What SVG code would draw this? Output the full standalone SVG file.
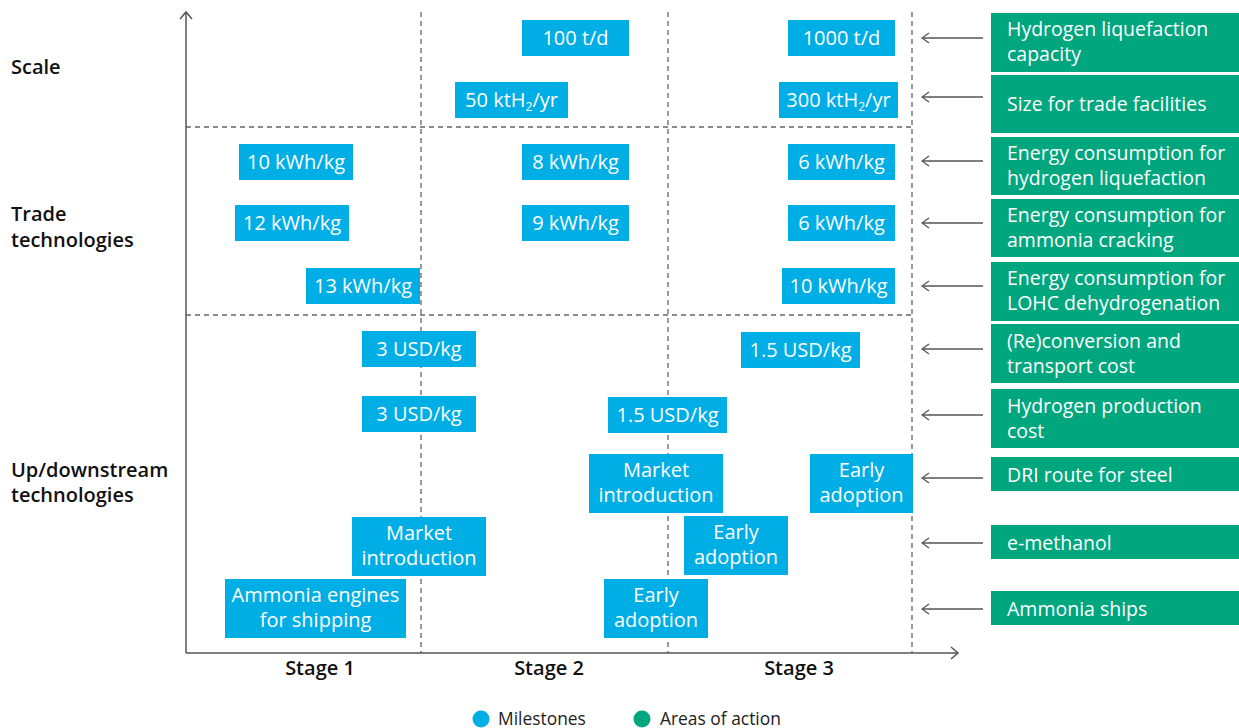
<svg xmlns="http://www.w3.org/2000/svg" width="1239" height="728" viewBox="0 0 1239 728">
<defs>
<style>
.ms{fill:#00AEE6}
.aa{fill:#00A67E}
.bt{font-family:"Open Sans","DejaVu Sans",sans-serif;font-size:20px;fill:#fff;text-anchor:middle}
.gt{font-family:"Open Sans","DejaVu Sans",sans-serif;font-size:19.5px;fill:#fff}
.lab{font-family:"Open Sans","DejaVu Sans",sans-serif;font-size:20px;font-weight:600;fill:#111}
.stg{font-family:"Open Sans","DejaVu Sans",sans-serif;font-size:20px;font-weight:600;fill:#111;text-anchor:middle}
.leg{font-family:"Open Sans","DejaVu Sans",sans-serif;font-size:17.4px;fill:#222}
.dash{stroke:#666;stroke-width:1.3;stroke-dasharray:5,4;fill:none}
.axis{stroke:#555;stroke-width:1.5;fill:none}
.conn{stroke:#555;stroke-width:1.3;fill:none;marker-end:url(#chev)}
.sub{font-size:12px}
</style>
<marker id="chev" viewBox="0 0 10 12" refX="9" refY="6" markerWidth="10" markerHeight="12" markerUnits="userSpaceOnUse" orient="auto">
<path d="M2,1 L9,6 L2,11" fill="none" stroke="#555" stroke-width="1.3"/>
</marker>
</defs>
<rect width="1239" height="728" fill="#fff"/>

<g id="grid">
<line class="dash" x1="421" y1="12" x2="421" y2="653"/>
<line class="dash" x1="668" y1="12" x2="668" y2="653"/>
<line class="dash" x1="912" y1="12" x2="912" y2="653"/>
<line class="dash" x1="186" y1="127" x2="912" y2="127"/>
<line class="dash" x1="186" y1="315" x2="912" y2="315"/>
</g>

<g id="axes">
<line class="axis" x1="186" y1="12" x2="186" y2="653"/>
<path class="axis" d="M180,19 L186,12 L192,19"/>
<line class="axis" x1="186" y1="653" x2="958" y2="653"/>
<path class="axis" d="M951,647 L958,653 L951,659"/>
</g>

<g id="row-labels">
<text class="lab" x="11" y="74">Scale</text>
<text class="lab" x="11" y="221">Trade</text>
<text class="lab" x="11" y="247">technologies</text>
<text class="lab" x="11" y="477">Up/downstream</text>
<text class="lab" x="11" y="502">technologies</text>
</g>

<g id="stage-labels">
<text class="stg" x="320" y="675">Stage 1</text>
<text class="stg" x="549" y="675">Stage 2</text>
<text class="stg" x="799" y="675">Stage 3</text>
</g>

<g id="m1"><rect class="ms" x="522" y="20" width="107" height="36"/><text class="bt" x="575.5" y="45">100 t/d</text></g>
<g id="m2"><rect class="ms" x="788" y="20" width="107" height="36"/><text class="bt" x="841.5" y="45">1000 t/d</text></g>
<g id="m3"><rect class="ms" x="455" y="82" width="113" height="36"/><text class="bt" x="511.5" y="107">50 ktH<tspan class="sub" dy="4">2</tspan><tspan dy="-4">/yr</tspan></text></g>
<g id="m4"><rect class="ms" x="779" y="82" width="119" height="36"/><text class="bt" x="838.5" y="107">300 ktH<tspan class="sub" dy="4">2</tspan><tspan dy="-4">/yr</tspan></text></g>
<g id="m5"><rect class="ms" x="239" y="144" width="114" height="36"/><text class="bt" x="296" y="169">10 kWh/kg</text></g>
<g id="m6"><rect class="ms" x="522" y="144" width="107" height="36"/><text class="bt" x="575.5" y="169">8 kWh/kg</text></g>
<g id="m7"><rect class="ms" x="788" y="144" width="107" height="36"/><text class="bt" x="841.5" y="169">6 kWh/kg</text></g>
<g id="m8"><rect class="ms" x="235" y="205" width="114" height="36"/><text class="bt" x="292" y="230">12 kWh/kg</text></g>
<g id="m9"><rect class="ms" x="522" y="205" width="107" height="36"/><text class="bt" x="575.5" y="230">9 kWh/kg</text></g>
<g id="m10"><rect class="ms" x="788" y="205" width="107" height="36"/><text class="bt" x="841.5" y="230">6 kWh/kg</text></g>
<g id="m11"><rect class="ms" x="306" y="268" width="114" height="36"/><text class="bt" x="363" y="293">13 kWh/kg</text></g>
<g id="m12"><rect class="ms" x="782" y="268" width="113" height="36"/><text class="bt" x="838.5" y="293">10 kWh/kg</text></g>
<g id="m13"><rect class="ms" x="362" y="331" width="114" height="36"/><text class="bt" x="419" y="356">3 USD/kg</text></g>
<g id="m14"><rect class="ms" x="741" y="332" width="119" height="36"/><text class="bt" x="800.5" y="357">1.5 USD/kg</text></g>
<g id="m15"><rect class="ms" x="362" y="396" width="114" height="36"/><text class="bt" x="419" y="421">3 USD/kg</text></g>
<g id="m16"><rect class="ms" x="608" y="397" width="119" height="36"/><text class="bt" x="667.5" y="422">1.5 USD/kg</text></g>
<g id="m17"><rect class="ms" x="589" y="454" width="134" height="59"/><text class="bt" x="656" y="477">Market</text><text class="bt" x="656" y="502">introduction</text></g>
<g id="m18"><rect class="ms" x="810" y="454" width="103" height="59"/><text class="bt" x="861.5" y="477">Early</text><text class="bt" x="861.5" y="502">adoption</text></g>
<g id="m19"><rect class="ms" x="352" y="517" width="134" height="59"/><text class="bt" x="419" y="540">Market</text><text class="bt" x="419" y="565">introduction</text></g>
<g id="m20"><rect class="ms" x="684" y="516" width="104" height="59"/><text class="bt" x="736" y="539">Early</text><text class="bt" x="736" y="564">adoption</text></g>
<g id="m21"><rect class="ms" x="225" y="579" width="181" height="59"/><text class="bt" x="315.5" y="602">Ammonia engines</text><text class="bt" x="315.5" y="627">for shipping</text></g>
<g id="m22"><rect class="ms" x="604" y="579" width="104" height="59"/><text class="bt" x="656" y="602">Early</text><text class="bt" x="656" y="627">adoption</text></g>

<g id="a1"><rect class="aa" x="991" y="13" width="248" height="59"/><text class="gt" x="1007" y="36">Hydrogen liquefaction</text><text class="gt" x="1007" y="61">capacity</text></g>
<g id="a2"><rect class="aa" x="991" y="75" width="248" height="58"/><text class="gt" x="1007" y="111">Size for trade facilities</text></g>
<g id="a3"><rect class="aa" x="991" y="137" width="248" height="58"/><text class="gt" x="1007" y="160">Energy consumption for</text><text class="gt" x="1007" y="185">hydrogen liquefaction</text></g>
<g id="a4"><rect class="aa" x="991" y="199" width="248" height="58"/><text class="gt" x="1007" y="222">Energy consumption for</text><text class="gt" x="1007" y="247">ammonia cracking</text></g>
<g id="a5"><rect class="aa" x="991" y="262" width="248" height="59"/><text class="gt" x="1007" y="285">Energy consumption for</text><text class="gt" x="1007" y="310">LOHC dehydrogenation</text></g>
<g id="a6"><rect class="aa" x="991" y="324" width="248" height="59"/><text class="gt" x="1007" y="348">(Re)conversion and</text><text class="gt" x="1007" y="373">transport cost</text></g>
<g id="a7"><rect class="aa" x="991" y="389" width="248" height="59"/><text class="gt" x="1007" y="413">Hydrogen production</text><text class="gt" x="1007" y="438">cost</text></g>
<g id="a8"><rect class="aa" x="991" y="457" width="248" height="34"/><text class="gt" x="1007" y="482">DRI route for steel</text></g>
<g id="a9"><rect class="aa" x="991" y="525" width="248" height="34"/><text class="gt" x="1007" y="550">e-methanol</text></g>
<g id="a10"><rect class="aa" x="991" y="591" width="248" height="34"/><text class="gt" x="1007" y="616">Ammonia ships</text></g>

<g id="connectors">
<line class="conn" x1="983" y1="38" x2="922" y2="38"/>
<line class="conn" x1="983" y1="97" x2="922" y2="97"/>
<line class="conn" x1="983" y1="161" x2="922" y2="161"/>
<line class="conn" x1="983" y1="223" x2="922" y2="223"/>
<line class="conn" x1="983" y1="286" x2="922" y2="286"/>
<line class="conn" x1="983" y1="349" x2="922" y2="349"/>
<line class="conn" x1="983" y1="415" x2="922" y2="415"/>
<line class="conn" x1="983" y1="478" x2="922" y2="478"/>
<line class="conn" x1="983" y1="543" x2="922" y2="543"/>
<line class="conn" x1="983" y1="609" x2="922" y2="609"/>
</g>

<g id="legend">
<circle cx="481" cy="719" r="8.5" class="ms"/>
<text class="leg" x="498" y="725">Milestones</text>
<circle cx="642" cy="719" r="8.5" class="aa"/>
<text class="leg" x="660" y="725">Areas of action</text>
</g>
</svg>
